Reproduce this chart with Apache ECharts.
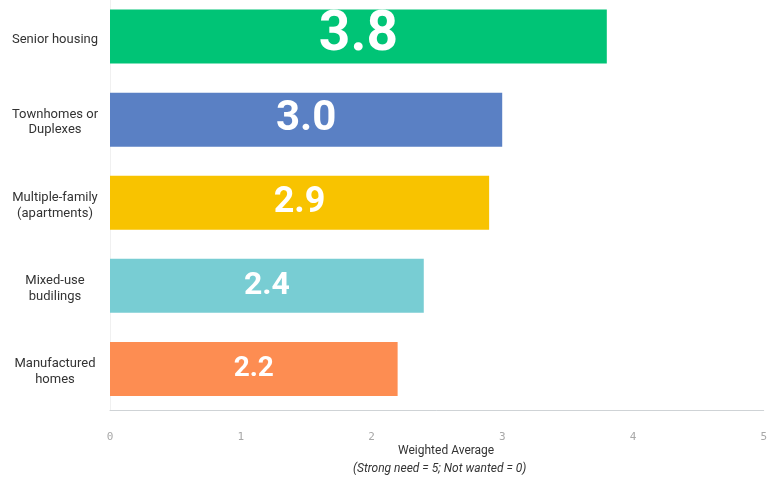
<!DOCTYPE html>
<html>
<head>
<meta charset="utf-8">
<style>
  html, body { margin: 0; padding: 0; background: #fff; overflow: hidden; }
  #chart { width: 770px; height: 485px; margin-top: -5px; }
</style>
<script src="https://cdn.jsdelivr.net/npm/echarts@6/dist/echarts.min.js"></script>
</head>
<body>
<div id="chart"></div>
<script>
// Housing types, listed top to bottom
const categories = [
  'Senior housing',
  'Townhomes or\nDuplexes',
  'Multiple-family\n(apartments)',
  'Mixed-use\nbudilings',
  'Manufactured\nhomes'
];
const values = [3.8, 3.0, 2.9, 2.4, 2.2];
const barColors = ['#00c476', '#5a80c4', '#f8c300', '#78cdd3', '#fd8d52'];
const labelSizes = [55, 42, 36, 32, 28];
const tickLabels = ['0', '1', '2', '3', '4', '5'];

const chart = echarts.init(document.getElementById('chart'), null, { renderer: 'canvas' });

const seriesData = values.map((v, i) => ({
  value: v,
  itemStyle: { color: barColors[i] },
  label: { fontSize: labelSizes[i] }
}));

// First line gets a little extra space above so the block sits slightly lower
const categoryFormatter = (name) =>
  name.split('\n').map((line, i) => (i === 0 ? '{first|' : '{rest|') + line + '}').join('\n');

const labelText = { color: '#333333', fontSize: 13, fontFamily: 'Roboto', lineHeight: 17 };

chart.setOption({
  animation: false,
  backgroundColor: '#ffffff',
  grid: { left: 110, right: 4, top: 0, bottom: 69.5, containLabel: false },
  xAxis: {
    type: 'value',
    min: 0,
    max: 5,
    interval: 1,
    axisLine: { show: true, lineStyle: { color: '#cfd3d6', width: 1 } },
    axisTick: { show: false },
    splitLine: { show: false },
    axisLabel: {
      color: '#a8a8a8',
      fontSize: 11,
      fontFamily: 'DejaVu Sans Mono',
      margin: 21,
      formatter: (v) => tickLabels[v]
    }
  },
  yAxis: {
    type: 'category',
    inverse: true,
    data: categories,
    axisLine: { show: true, lineStyle: { color: '#f0f0f0' } },
    axisTick: { show: false },
    axisLabel: {
      align: 'center',
      margin: 55,
      color: '#333333',
      fontSize: 13,
      fontFamily: 'Roboto',
      lineHeight: 17,
      formatter: categoryFormatter,
      rich: {
        first: Object.assign({ padding: [7, 0, 0, 0] }, labelText),
        rest: Object.assign({ padding: [4, 0, 0, 0] }, labelText)
      }
    }
  },
  series: [{
    type: 'bar',
    data: seriesData,
    barWidth: 54,
    label: {
      show: true,
      position: 'inside',
      color: '#ffffff',
      fontFamily: 'Roboto',
      fontWeight: 'bold',
      formatter: (p) => p.value.toFixed(1)
    }
  }],
  graphic: [
    {
      type: 'text',
      left: 398,
      top: 450,
      style: {
        text: 'Weighted Average',
        fill: '#333333',
        font: '12px Roboto'
      }
    },
    {
      type: 'text',
      left: 353,
      top: 468,
      style: {
        text: '(Strong need = 5; Not wanted = 0)',
        fill: '#333333',
        font: 'italic 12px Roboto'
      }
    }
  ]
});
</script>
</body>
</html>
